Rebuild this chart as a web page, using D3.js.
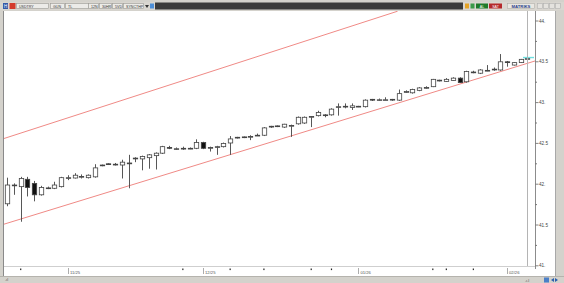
<!DOCTYPE html>
<html>
<head>
<meta charset="utf-8">
<script src="https://cdn.jsdelivr.net/npm/d3@7"></script>
<style>
  html, body { margin: 0; padding: 0; background: #fff; }
  svg { display: block; font-family: 'Liberation Sans', Arial, sans-serif; }
</style>
</head>
<body>
<svg id="chart" width="564" height="283"></svg>
<script>
// daily USDTRY bars, 21 Oct 2025 .. 5 Feb 2026
const dates = [
  '2025-10-21','2025-10-22','2025-10-23','2025-10-24','2025-10-27','2025-10-28','2025-10-29','2025-10-30','2025-10-31',
  '2025-11-03','2025-11-04','2025-11-05','2025-11-06','2025-11-07','2025-11-10','2025-11-11','2025-11-12','2025-11-13','2025-11-14',
  '2025-11-17','2025-11-18','2025-11-19','2025-11-20','2025-11-21','2025-11-24','2025-11-25','2025-11-26','2025-11-27','2025-11-28',
  '2025-12-01','2025-12-02','2025-12-03','2025-12-04','2025-12-05','2025-12-08','2025-12-09','2025-12-10','2025-12-11','2025-12-12',
  '2025-12-15','2025-12-16','2025-12-17','2025-12-18','2025-12-19','2025-12-22','2025-12-23','2025-12-24','2025-12-25','2025-12-26',
  '2025-12-29','2025-12-30','2025-12-31',
  '2026-01-01','2026-01-02','2026-01-05','2026-01-06','2026-01-07','2026-01-08','2026-01-09','2026-01-12','2026-01-13','2026-01-14',
  '2026-01-15','2026-01-16','2026-01-19','2026-01-20','2026-01-21','2026-01-22','2026-01-23','2026-01-26','2026-01-27','2026-01-28',
  '2026-01-29','2026-01-30',
  '2026-02-02','2026-02-03','2026-02-04','2026-02-05'
];
const opens  = [41.76,41.985,41.97,42.06,42.01,41.87,41.95,41.95,41.97,42.07,42.076,42.09,42.08,42.09,42.235,42.25,42.24,42.235,42.25,42.31,
  42.31,42.325,42.35,42.38,42.45,42.43,42.43,42.44,42.44,42.51,42.44,42.45,42.46,42.505,42.57,42.575,42.58,42.60,42.60,42.70,
  42.71,42.70,42.71,42.74,42.75,42.82,42.84,42.85,42.85,42.95,42.95,42.94,42.95,42.95,43.04,43.03,43.03,43.035,43.03,43.13,
  43.12,43.15,43.18,43.195,43.275,43.26,43.27,43.30,43.255,43.37,43.36,43.39,43.405,43.40,43.50,43.46,43.49,43.535];
const highs  = [42.08,42.01,42.09,42.09,42.04,41.98,41.97,42.03,42.09,42.11,42.135,42.12,42.12,42.245,42.24,42.255,42.26,42.30,42.36,42.33,
  42.35,42.37,42.39,42.47,42.47,42.45,42.46,42.45,42.55,42.52,42.46,42.47,42.51,42.59,42.58,42.585,42.60,42.62,42.70,42.715,
  42.72,42.74,42.73,42.83,42.83,42.835,42.90,42.86,42.93,42.99,42.99,42.99,42.96,43.04,43.045,43.05,43.065,43.045,43.16,43.15,
  43.17,43.19,43.20,43.29,43.28,43.30,43.31,43.31,43.39,43.39,43.41,43.46,43.43,43.595,43.51,43.495,43.535,43.545];
const lows   = [41.73,41.87,41.54,41.85,41.79,41.86,41.94,41.94,41.96,42.05,42.07,42.07,42.07,42.08,42.22,42.235,42.23,42.07,41.95,42.27,
  42.17,42.19,42.18,42.37,42.43,42.42,42.42,42.43,42.43,42.43,42.40,42.36,42.45,42.36,42.56,42.565,42.54,42.60,42.59,42.69,
  42.70,42.69,42.58,42.73,42.74,42.70,42.83,42.82,42.84,42.84,42.93,42.91,42.945,42.94,43.02,43.02,43.03,43.02,43.02,43.12,
  43.11,43.14,43.17,43.19,43.26,43.255,43.265,43.24,43.245,43.36,43.35,43.385,43.39,43.39,43.44,43.455,43.485,43.53];
const closes = [41.99,41.99,42.07,41.96,41.87,41.96,41.955,41.99,42.08,42.08,42.11,42.095,42.11,42.20,42.235,42.24,42.245,42.27,42.26,42.32,
  42.34,42.36,42.38,42.46,42.44,42.435,42.44,42.44,42.51,42.44,42.45,42.46,42.50,42.555,42.575,42.58,42.585,42.60,42.69,42.71,
  42.715,42.735,42.72,42.82,42.82,42.83,42.88,42.85,42.92,42.95,42.955,42.96,42.955,43.03,43.03,43.035,43.035,43.04,43.11,43.135,
  43.16,43.18,43.185,43.285,43.265,43.285,43.30,43.245,43.38,43.375,43.40,43.395,43.41,43.50,43.49,43.49,43.53,43.54];

// trend channel anchors as [bar index, price]
const channelUpper = [[-0.46, 42.56], [57.8, 44.12]];
const channelLower = [[-0.46, 41.51], [78.14, 43.51]];

const yTicks = [41, 41.5, 42, 42.5, 43, 43.5, 44];
const yTickLabels = ['41.', '41.5', '42.', '42.5', '43.', '43.5', '44.'];
const yMinorTicks = [40.75, 41.25, 41.75, 42.25, 42.75, 43.25, 43.75];
const monthTicks = ['2025-11-03', '2025-12-01', '2026-01-01', '2026-02-02'];
const monthLabels = ['11/25', '12/25', '01/26', '02/26'];
const weekMarks = ['2025-10-23', '2025-11-26', '2025-12-05', '2025-12-12', '2025-12-23', '2025-12-26', '2026-01-16', '2026-01-20', '2026-01-26'];

const PLOT = { left: 4, right: 535, top: 11, bottom: 266 };
const BODY_W = 4.4;

const svg = d3.select('#chart');

const bars = dates.map((d, i) => ({ date: d, i, o: opens[i], h: highs[i], l: lows[i], c: closes[i] }));

const xIdx = d3.scaleLinear().domain([0, dates.length - 1]).range([7.1, 527.3]);
const x = d3.scalePoint().domain(dates).range([7.1, 527.3]);
const y = d3.scaleLinear().domain([41, 44]).range([265.8, 21]);

// window chrome
svg.append('rect').attr('width', 564).attr('height', 283).attr('fill', '#d4d2cc');
svg.append('rect').attr('x', PLOT.left).attr('y', PLOT.top)
  .attr('width', 555 - PLOT.left).attr('height', 276 - PLOT.top).attr('fill', '#fff');
svg.append('line').attr('x1', 3.5).attr('x2', 3.5).attr('y1', PLOT.top).attr('y2', 276)
  .attr('stroke', '#8a8a8a').attr('stroke-width', 1);
svg.append('line').attr('x1', 555.5).attr('x2', 555.5).attr('y1', PLOT.top).attr('y2', 276)
  .attr('stroke', '#a8a8a8').attr('stroke-width', 1);

// toolbar
const tb = svg.append('g').attr('class', 'toolbar').attr('font-size', 3.6);
tb.append('rect').attr('x', 0).attr('y', 2).attr('width', 564).attr('height', 8).attr('fill', '#d9d6d0');
tb.append('rect').attr('x', 3).attr('y', 3).attr('width', 5).attr('height', 6).attr('fill', '#3559a8');
tb.append('text').attr('x', 5.5).attr('y', 7.7).attr('text-anchor', 'middle').attr('fill', '#fff').attr('font-size', 4.5).text('H');
tb.append('rect').attr('x', 9.5).attr('y', 3).attr('width', 6).attr('height', 6).attr('fill', '#d43a2c');
const tbBoxes = [[16, 32, 'USDTRY'], [50, 14, 'GUN'], [65, 23, 'TL'], [88, 10, '12N'], [99, 12, '30HR'], [112, 10, '5VD'], [123, 20, 'SYNCTHP']];
tbBoxes.forEach(([bx, bw, t]) => {
  tb.append('rect').attr('x', bx + 0.5).attr('y', 3.5).attr('width', bw).attr('height', 5)
    .attr('fill', '#ecebe8').attr('stroke', '#9c9a94').attr('stroke-width', 0.6);
  tb.append('text').attr('x', bx + 3).attr('y', 7.5).attr('fill', '#333').text(t);
});
tb.append('path').attr('d', 'M145,5 L149,5 L147,8 Z').attr('fill', '#333');
tb.append('rect').attr('x', 150).attr('y', 3.5).attr('width', 4).attr('height', 5).attr('fill', '#4d8fd8');
tb.append('rect').attr('x', 155).attr('y', 2.5).attr('width', 308).attr('height', 7).attr('fill', '#3b3b3b');
tb.append('rect').attr('x', 465).attr('y', 3.5).attr('width', 4).attr('height', 5).attr('fill', '#e5a326');
tb.append('rect').attr('x', 470.5).attr('y', 3.5).attr('width', 4).attr('height', 5).attr('fill', '#3b9a4a');
tb.append('rect').attr('x', 476).attr('y', 3.5).attr('width', 12).attr('height', 5).attr('fill', '#1e7b2a');
tb.append('text').attr('x', 482).attr('y', 7.5).attr('text-anchor', 'middle').attr('fill', '#fff').text('AL');
tb.append('rect').attr('x', 489).attr('y', 3.5).attr('width', 13).attr('height', 5).attr('fill', '#b5282b');
tb.append('text').attr('x', 495.5).attr('y', 7.5).attr('text-anchor', 'middle').attr('fill', '#fff').text('SAT');
tb.append('rect').attr('x', 507.5).attr('y', 3.5).attr('width', 27).attr('height', 5)
  .attr('fill', '#e9e7e2').attr('stroke', '#a9a7a1').attr('stroke-width', 0.5);
tb.append('text').attr('x', 521).attr('y', 7.6).attr('text-anchor', 'middle').attr('fill', '#2c3e8c')
  .attr('font-weight', 'bold').attr('font-size', 4.2).text('MATRIKS');
[537, 543, 549, 555].forEach(bx => {
  tb.append('rect').attr('x', bx + 0.5).attr('y', 3.5).attr('width', 5).attr('height', 5)
    .attr('fill', '#e4e2de').attr('stroke', '#aaa').attr('stroke-width', 0.5);
});

// plot area
const defs = svg.append('defs');
defs.append('clipPath').attr('id', 'plot-clip').append('rect')
  .attr('x', PLOT.left).attr('y', PLOT.top)
  .attr('width', PLOT.right - PLOT.left).attr('height', PLOT.bottom - PLOT.top);

const plot = svg.append('g').attr('clip-path', 'url(#plot-clip)');

const chanLine = d3.line().x(d => xIdx(d[0])).y(d => y(d[1]));
[channelUpper, channelLower].forEach(pts => {
  plot.append('path').attr('d', chanLine(pts)).attr('fill', 'none')
    .attr('stroke', '#f08a86').attr('stroke-width', 1);
});

// candles
const candle = plot.selectAll('.candle').data(bars).enter().append('g').attr('class', 'candle');
candle.append('line')
  .attr('x1', d => Math.round(x(d.date)) + 0.5).attr('x2', d => Math.round(x(d.date)) + 0.5)
  .attr('y1', d => y(d.h)).attr('y2', d => y(d.l))
  .attr('stroke', '#444').attr('stroke-width', 0.9);
candle.append('rect')
  .attr('x', d => Math.round(x(d.date)) + 0.5 - BODY_W / 2)
  .attr('y', d => y(Math.max(d.o, d.c)))
  .attr('width', BODY_W)
  .attr('height', d => Math.max(0.8, Math.abs(y(d.o) - y(d.c))))
  .attr('fill', d => d.c >= d.o ? '#fff' : '#111')
  .attr('stroke', '#444').attr('stroke-width', 0.8);

// last price marker
const last = bars[bars.length - 1];
svg.append('line').attr('x1', 523).attr('x2', 534).attr('y1', y(last.c) - 1).attr('y2', y(last.c) - 1)
  .attr('stroke', '#6fe0e0').attr('stroke-width', 1.4);

// right price axis
svg.append('line').attr('x1', 527.5).attr('x2', 527.5).attr('y1', PLOT.top).attr('y2', PLOT.bottom)
  .attr('stroke', '#b4b4b4');
svg.append('line').attr('x1', 535.5).attr('x2', 535.5).attr('y1', PLOT.top).attr('y2', 269)
  .attr('stroke', '#8c8c8c');
const yAxis = svg.append('g').attr('font-size', 4.6).attr('fill', '#444');
yAxis.selectAll('.ytick').data(yTicks).enter().append('line')
  .attr('x1', 535.5).attr('x2', 538.5).attr('y1', d => y(d)).attr('y2', d => y(d))
  .attr('stroke', '#666').attr('stroke-width', 0.8);
yAxis.selectAll('.ylabel').data(yTicks).enter().append('text')
  .attr('x', 539).attr('y', d => y(d) + 1.6).text((d, i) => yTickLabels[i]);
yAxis.selectAll('.yminor').data(yMinorTicks.filter(v => y(v) > PLOT.top && y(v) < PLOT.bottom)).enter().append('rect')
  .attr('x', 535.6).attr('y', d => y(d) - 0.5).attr('width', 1.2).attr('height', 1).attr('fill', '#555');

// bottom date axis
svg.append('line').attr('x1', PLOT.left).attr('x2', 535).attr('y1', 266.5).attr('y2', 266.5)
  .attr('stroke', '#cfcfcf');
const xAxis = svg.append('g').attr('font-size', 4.2).attr('fill', '#555');
xAxis.selectAll('.mtick').data(monthTicks).enter().append('line')
  .attr('x1', d => Math.round(x(d)) + 0.5).attr('x2', d => Math.round(x(d)) + 0.5)
  .attr('y1', 268).attr('y2', 274).attr('stroke', '#888').attr('stroke-width', 0.7);
xAxis.selectAll('.mlabel').data(monthTicks).enter().append('text')
  .attr('x', d => x(d) + 2).attr('y', 273.5).text((d, i) => monthLabels[i]);
xAxis.selectAll('.wmark').data(weekMarks).enter().append('rect')
  .attr('x', d => x(d) - 0.5).attr('y', 268.5).attr('width', 1.2).attr('height', 1.6).attr('fill', '#222');

// status strip
svg.append('rect').attr('x', 0).attr('y', 276).attr('width', 564).attr('height', 7).attr('fill', '#d4d2cc');
svg.append('line').attr('x1', 0).attr('x2', 564).attr('y1', 276.5).attr('y2', 276.5).attr('stroke', '#b5b3ad');
svg.append('text').attr('x', 5).attr('y', 281).attr('font-size', 4).attr('fill', '#555').text('.ıl');
svg.append('text').attr('x', 525).attr('y', 281.5).attr('font-size', 4).attr('fill', '#555').text('.ı.l');
svg.append('rect').attr('x', 544).attr('y', 277.5).attr('width', 5).attr('height', 5).attr('fill', '#4b7fc8');
svg.append('path').attr('d', 'M551,280 L554,278 L554,282 Z M555,278 L558,280 L555,282 Z').attr('fill', '#2a5fae');
</script>
</body>
</html>
